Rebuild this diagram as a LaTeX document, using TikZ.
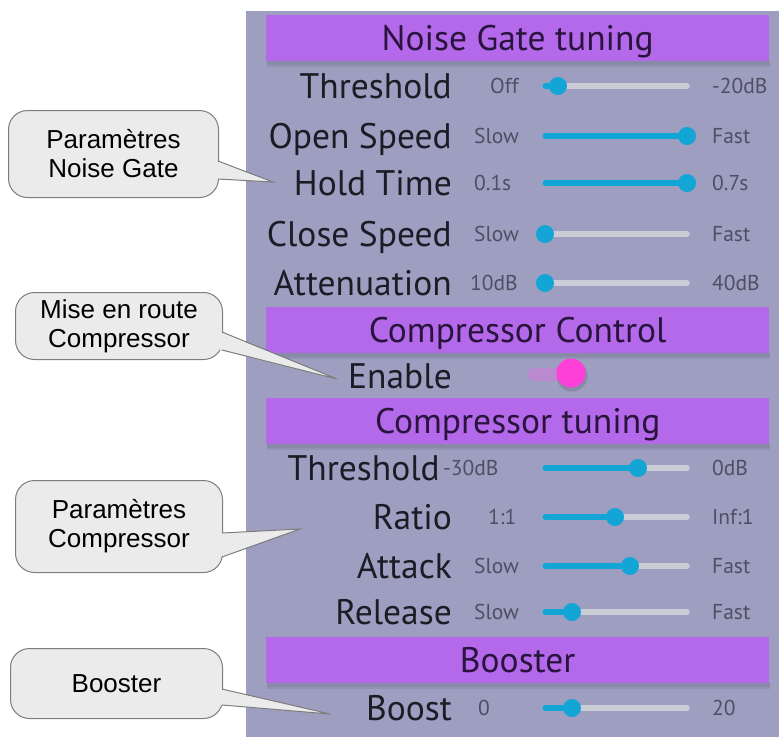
\documentclass[tikz,border=0pt]{standalone}
\usepackage{fontspec}
\setmainfont{PT Sans}
\newfontfamily\calloutfont{Liberation Sans}
\usetikzlibrary{calc}
\definecolor{panel}{RGB}{158,158,192}
\definecolor{hdr}{RGB}{180,104,234}
\definecolor{hdrshadow}{RGB}{120,120,150}
\definecolor{hdrtext}{RGB}{40,20,60}
\definecolor{lbltext}{RGB}{28,28,38}
\definecolor{smalltext}{RGB}{78,78,100}
\definecolor{trackgrey}{RGB}{204,204,214}
\definecolor{trackcyan}{RGB}{18,165,214}
\definecolor{pinkknob}{RGB}{255,64,216}
\definecolor{pinktrack}{RGB}{200,130,212}
\definecolor{callfill}{RGB}{235,235,235}
\definecolor{callline}{RGB}{125,125,125}
\newcommand\uislider[6]{%
  \coordinate (#1a) at (545,#2);
  \coordinate (#1b) at (687,#2);
  \coordinate (#1c) at (#3,#2);
  \draw[offtrack] (#1a) -- (#1b);
  \draw[ontrack] (#1a) -- (#1c);
  \node[knob] (#1k) at (#1c) {};
  \node[minlabel] (#1min) at (#4,{#2+7}) {#5};
  \node[minlabel] (#1max) at (712,{#2+7}) {#6};
}
\begin{document}
\begin{tikzpicture}[x=1pt,y=-1pt,
  hdrbox/.style={fill=hdr, draw=none, inner sep=0, anchor=north west,
    minimum width=503pt, minimum height=46pt, text height=24pt, text depth=0pt,
    font=\fontsize{35.5}{38}\selectfont, text=hdrtext},
  rowlabel/.style={font=\fontsize{35.5}{38}\selectfont, text=lbltext, anchor=base east, inner sep=0},
  minlabel/.style={font=\fontsize{21.5}{24}\selectfont, text=smalltext, anchor=base west, inner sep=0},
  offtrack/.style={draw=trackgrey, line width=5.5pt, line cap=round},
  ontrack/.style={draw=trackcyan, line width=5.5pt, line cap=round},
  knob/.style={circle, fill=trackcyan, inner sep=0, minimum size=18pt},
  callbox/.style={draw=callline, fill=callfill, line width=1pt, rounded corners=19pt,
    anchor=north west, inner sep=0, align=center,
    font=\calloutfont\fontsize{26}{29}\selectfont, text=black},
  pointerline/.style={draw=callline, line width=1pt, line join=miter}
]
\useasboundingbox (0,0) rectangle (779,737);
% panel
\fill[panel] (246,11) rectangle (779,737);

% header shadows
\foreach \t/\b in {15/61, 307/353, 398/444, 637/683}{
  \fill[hdrshadow, opacity=0.55] (267,\b) rectangle (770,{\b+4});
  \fill[hdrshadow, opacity=0.3] (267,{\b+4}) rectangle (770,{\b+6});
}
% headers
\node[hdrbox] (h1) at (266,15) {Noise Gate tuning};
\node[hdrbox] (h2) at (266,307) {Compressor Control};
\node[hdrbox] (h3) at (266,398) {Compressor tuning};
\node[hdrbox] (h4) at (266,637) {Booster};

% row labels
\node[rowlabel] (l1) at (452,98) {Threshold};
\node[rowlabel] (l2) at (452,148) {Open Speed};
\node[rowlabel] (l3) at (452,195) {Hold Time};
\node[rowlabel] (l4) at (452,246) {Close Speed};
\node[rowlabel] (l5) at (452,295) {Attenuation};
\node[rowlabel] (l6) at (452,388) {Enable};
\node[rowlabel] (l7) at (440,480) {Threshold};
\node[rowlabel] (l8) at (452,529) {Ratio};
\node[rowlabel] (l9) at (452,578) {Attack};
\node[rowlabel] (l10) at (452,624) {Release};
\node[rowlabel] (l11) at (452,720) {Boost};

% sliders
\uislider{s1}{86}{558}{490}{Off}{-20dB}
\uislider{s2}{136}{687}{474}{Slow}{Fast}
\uislider{s3}{183}{687}{474}{0.1s}{0.7s}
\uislider{s4}{234}{545}{474}{Slow}{Fast}
\uislider{s5}{283}{545}{470}{10dB}{40dB}
\uislider{s7}{468}{638}{443}{-30dB}{0dB}
\uislider{s8}{517}{615}{488}{1:1}{Inf:1}
\uislider{s9}{566}{630}{474}{Slow}{Fast}
\uislider{s10}{612}{572}{474}{Slow}{Fast}
\uislider{s11}{708}{572}{478}{0}{20}

% enable toggle
\coordinate (ea) at (534,374);
\coordinate (eb) at (566,374);
\draw[draw=pinktrack, line width=13pt, line cap=round, opacity=0.7] (ea) -- (eb);
\fill[black, opacity=0.12] (572,376) circle (15.5);
\node[circle, fill=pinkknob, inner sep=0, minimum size=29pt] (ek) at (571,373) {};

% callouts
\node[callbox, minimum width=210pt, minimum height=87pt] (c1) at (8,110) {Paramètres\\Noise Gate};
\coordinate (c1a) at (218,161);
\coordinate (c1b) at (218,179);
\coordinate (c1t) at (273,182);
\fill[callfill] ($(c1a)+(-2,0)$) -- (c1t) -- ($(c1b)+(-2,0)$) -- cycle;
\draw[pointerline] (c1a) -- (c1t) -- (c1b);

\node[callbox, minimum width=207pt, minimum height=67pt] (c2) at (15,292) {Mise en route\\Compressor};
\coordinate (c2a) at (222,332);
\coordinate (c2b) at (222,350);
\coordinate (c2t) at (337,379);
\fill[callfill] ($(c2a)+(-2,0)$) -- (c2t) -- ($(c2b)+(-2,0)$) -- cycle;
\draw[pointerline] (c2a) -- (c2t) -- (c2b);

\node[callbox, minimum width=207pt, minimum height=92pt] (c3) at (15,480) {Paramètres\\Compressor};
\coordinate (c3a) at (222,533);
\coordinate (c3b) at (222,557);
\coordinate (c3t) at (300,529);
\fill[callfill] ($(c3a)+(-2,0)$) -- (c3t) -- ($(c3b)+(-2,0)$) -- cycle;
\draw[pointerline] (c3a) -- (c3t) -- (c3b);

\node[callbox, minimum width=212pt, minimum height=70pt] (c4) at (10,648) {Booster};
\coordinate (c4a) at (222,689);
\coordinate (c4b) at (222,705);
\coordinate (c4t) at (330,714);
\fill[callfill] ($(c4a)+(-2,0)$) -- (c4t) -- ($(c4b)+(-2,0)$) -- cycle;
\draw[pointerline] (c4a) -- (c4t) -- (c4b);
\end{tikzpicture}
\end{document}
